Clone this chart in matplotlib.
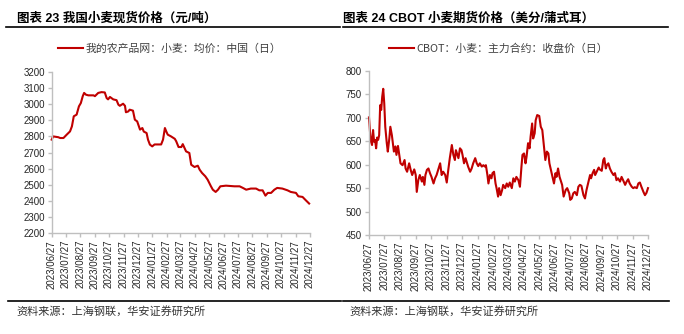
import matplotlib
matplotlib.use('Agg')
import matplotlib.pyplot as plt
import pandas as pd
from matplotlib.lines import Line2D

# ---------------- data ----------------
START = '2023-06-27'
tick_labels = ['2023/06/27', '2023/07/27', '2023/08/27', '2023/09/27', '2023/10/27',
               '2023/11/27', '2023/12/27', '2024/01/27', '2024/02/27', '2024/03/27',
               '2024/04/27', '2024/05/27', '2024/06/27', '2024/07/27', '2024/08/27',
               '2024/09/27', '2024/10/27', '2024/11/27', '2024/12/27']

# China wheat spot price (yuan/ton); x = days after START
cn_days = [0, 3, 14, 18, 25, 32, 39, 43, 47, 53, 58, 62, 66, 69, 73, 78, 89, 92, 99, 106,
           113, 117, 120, 124, 131, 138, 142, 145, 152, 156, 158, 163, 166, 173, 177, 182,
           188, 193, 196, 202, 205, 209, 214, 219, 233, 237, 241, 244, 247, 254, 262, 265,
           270, 276, 279, 286, 293, 297, 304, 311, 315, 320, 327, 332, 339, 343, 349, 354,
           359, 371, 389, 400, 407, 414, 424, 435, 442, 449, 455, 460, 467, 474, 480, 491,
           502, 509, 520, 525, 534, 541, 548]
cn_price = [2780, 2800, 2795, 2790, 2790, 2811, 2831, 2862, 2925, 2935, 2987, 3007, 3049,
            3070, 3059, 3055, 3055, 3050, 3070, 3075, 3073, 3038, 3030, 3045, 3030, 3025,
            2997, 2990, 3003, 2990, 2950, 2955, 2966, 2960, 2904, 2893, 2842, 2852, 2830,
            2821, 2780, 2749, 2738, 2750, 2750, 2780, 2852, 2830, 2811, 2800, 2785, 2770,
            2734, 2734, 2752, 2707, 2697, 2624, 2610, 2618, 2593, 2573, 2552, 2531, 2490,
            2469, 2455, 2469, 2490, 2494, 2490, 2490, 2480, 2469, 2476, 2476, 2465, 2465,
            2432, 2449, 2449, 2469, 2480, 2476, 2465, 2455, 2449, 2428, 2424, 2403, 2383]

# CBOT wheat main contract close (US cents/bushel); x = days after START
cbot_days = [0, 2, 4, 6, 8, 10, 12, 14, 16, 18, 20, 22, 24, 26, 28, 30, 32, 35, 37, 40,
             42, 45, 47, 49, 52, 54, 57, 60, 62, 66, 70, 72, 75, 79, 82, 85, 89, 92, 94, 97,
             100, 104, 106, 109, 111, 114, 117, 120, 123, 127, 130, 133, 136, 140, 143, 146,
             150, 153, 156, 159, 163, 166, 169, 171, 174, 176, 179, 182, 184, 187, 190, 192,
             195, 199, 202, 205, 209, 212, 215, 218, 222, 225, 228, 230, 233, 235, 238, 241,
             243, 246, 249, 251, 254, 256, 259, 262, 264, 268, 271, 274, 277, 281, 284, 287,
             290, 294, 297, 300, 302, 305, 308, 310, 313, 316, 318, 321, 323, 326, 328, 331,
             335, 338, 341, 344, 347, 350, 353, 355, 358, 361, 364, 367, 369, 372, 375, 377,
             380, 383, 387, 390, 394, 396, 399, 402, 405, 409, 412, 415, 418, 422, 425, 428,
             431, 435, 437, 440, 443, 445, 448, 452, 454, 458, 461, 463, 466, 468, 471, 474,
             477, 481, 484, 487, 490, 494, 497, 500, 504, 507, 510, 513, 517, 520, 523, 527,
             530, 533, 536, 540, 543, 546, 549]
cbot_price = [701, 670, 649, 642, 674, 649, 653, 635, 658, 653, 663, 727, 717, 745, 762,
              731, 681, 646, 628, 656, 681, 663, 646, 628, 639, 621, 640, 617, 603, 599,
              610, 592, 585, 603, 589, 578, 590, 578, 542, 567, 578, 564, 574, 557, 578,
              589, 592, 582, 574, 560, 571, 578, 589, 603, 578, 585, 578, 562, 589, 614,
              642, 621, 610, 631, 621, 614, 635, 631, 621, 603, 614, 607, 596, 585, 592,
              603, 614, 603, 597, 603, 596, 599, 596, 599, 578, 560, 578, 571, 582, 585,
              560, 550, 532, 550, 535, 546, 557, 550, 560, 553, 562, 550, 571, 564, 574,
              567, 553, 596, 621, 624, 603, 617, 646, 635, 660, 688, 656, 667, 695, 706,
              704, 681, 674, 642, 610, 628, 624, 603, 589, 574, 560, 582, 574, 592, 574,
              567, 557, 532, 546, 550, 539, 525, 528, 539, 542, 535, 553, 557, 555, 535,
              528, 546, 560, 578, 571, 582, 589, 578, 585, 594, 590, 587, 610, 614, 592,
              599, 603, 592, 585, 578, 582, 567, 571, 564, 574, 567, 557, 564, 569, 560,
              553, 550, 552, 550, 560, 562, 553, 542, 535, 540, 550]

cn_yticks = [2200, 2300, 2400, 2500, 2600, 2700, 2800, 2900, 3000, 3100, 3200]
cbot_yticks = [450, 500, 550, 600, 650, 700, 750, 800]

titles = ['图表 23 我国小麦现货价格（元/吨）', '图表 24 CBOT 小麦期货价格（美分/蒲式耳）']
legend_labels = ['我的农产品网：小麦：均价：中国（日）', 'CBOT：小麦：主力合约：收盘价（日）']
source = '资料来源：上海钢联，华安证券研究所'

# ---------------- styling ----------------
RED = '#C00000'
LAT = ['Liberation Sans', 'Noto Sans CJK SC']
CJK = ['Noto Sans CJK SC', 'DejaVu Sans']
plt.rcParams['font.family'] = LAT

W, H = 684, 334
fig = plt.figure(figsize=(W / 100, H / 100), dpi=100)
fig.patch.set_facecolor('white')

start = pd.Timestamp(START)
tick_dates = pd.to_datetime(tick_labels, format='%Y/%m/%d')


def px(x0, y_top, x1, y_bot):
    return [x0 / W, 1 - y_bot / H, (x1 - x0) / W, (y_bot - y_top) / H]


ax1 = fig.add_axes(px(51.7, 72, 309.6, 233))
ax2 = fig.add_axes(px(369, 71, 648, 235))


def style(ax, yticks):
    for s in ['top', 'right']:
        ax.spines[s].set_visible(False)
    for s in ['left', 'bottom']:
        ax.spines[s].set_color('#bfbfbf')
        ax.spines[s].set_linewidth(1.0)
    ax.set_xlim(tick_dates[0], tick_dates[-1])
    ax.set_xticks(tick_dates)
    ax.set_xticklabels(tick_labels, rotation=90)
    ax.set_yticks(yticks)
    ax.set_ylim(yticks[0], yticks[-1])
    ax.tick_params(axis='both', colors='#bfbfbf', labelcolor='#262626',
                   length=3, width=1, labelsize=7, pad=2)


for ax, days, vals, yt, lab in [(ax1, cn_days, cn_price, cn_yticks, legend_labels[0]),
                                (ax2, cbot_days, cbot_price, cbot_yticks, legend_labels[1])]:
    x = start + pd.to_timedelta(days, unit='D')
    ax.plot(x, vals, color=RED, lw=1.5, clip_on=False, label=lab, solid_joinstyle='round')
    style(ax, yt)

leg_pos = [(169.5 / W, 1 - 48.5 / H), (498.5 / W, 1 - 48.5 / H)]
for ax, pos in zip([ax1, ax2], leg_pos):
    leg = ax.legend(loc='center', bbox_to_anchor=pos, bbox_transform=fig.transFigure,
                    frameon=False, handlelength=2.3, handletextpad=0.25,
                    prop={'family': CJK, 'size': 7.8})
    for t in leg.get_texts():
        t.set_color('#404040')

# titles
fig.text(17 / W, 1 - 19 / H, titles[0], fontsize=9, weight='bold', va='center', ha='left',
         family=LAT, color='black')
fig.text(343 / W, 1 - 19 / H, titles[1], fontsize=9, weight='bold', va='center', ha='left',
         family=LAT, color='black')

# rule lines
for (x0, x1, y) in [(6, 340, 27), (343, 668, 27), (8, 341, 301), (343, 669, 301)]:
    fig.add_artist(Line2D([x0 / W, x1 / W], [1 - y / H, 1 - y / H], transform=fig.transFigure,
                          color='black', lw=1.2))

# source
fig.text(16 / W, 1 - 311 / H, source, fontsize=8, va='center', ha='left', family=CJK,
         color='#333333')
fig.text(349 / W, 1 - 311 / H, source, fontsize=8, va='center', ha='left', family=CJK,
         color='#333333')

fig.savefig('out.png', dpi=100, facecolor='white')
